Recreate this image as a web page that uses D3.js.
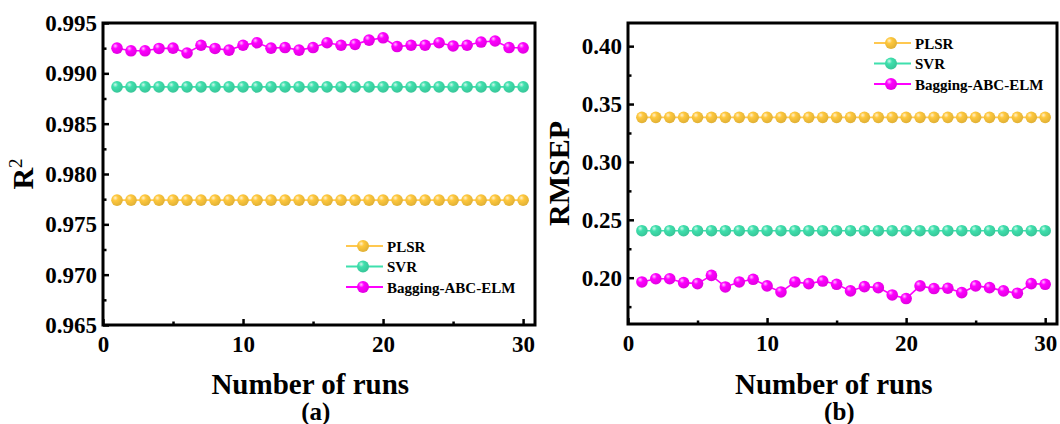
<!DOCTYPE html>
<html>
<head>
<meta charset="utf-8">
<script src="https://cdn.jsdelivr.net/npm/d3@7"></script>
<style>
  body { margin: 0; background: #fff; }
  svg text { font-family: "Liberation Serif", "Times New Roman", serif; font-weight: bold; fill: #000; }
</style>
</head>
<body>
<svg id="chart" width="1060" height="424"></svg>
<script>
// run index (x)
var runs = [1, 2, 3, 4, 5, 6, 7, 8, 9, 10, 11, 12, 13, 14, 15,
            16, 17, 18, 19, 20, 21, 22, 23, 24, 25, 26, 27, 28, 29, 30];

// (a) R2
var r2PLSR = [0.9774, 0.9774, 0.9774, 0.9774, 0.9774, 0.9774, 0.9774, 0.9774, 0.9774, 0.9774,
              0.9774, 0.9774, 0.9774, 0.9774, 0.9774, 0.9774, 0.9774, 0.9774, 0.9774, 0.9774,
              0.9774, 0.9774, 0.9774, 0.9774, 0.9774, 0.9774, 0.9774, 0.9774, 0.9774, 0.9774];
var r2SVR = [0.98865, 0.98865, 0.98865, 0.98865, 0.98865, 0.98865, 0.98865, 0.98865, 0.98865, 0.98865,
             0.98865, 0.98865, 0.98865, 0.98865, 0.98865, 0.98865, 0.98865, 0.98865, 0.98865, 0.98865,
             0.98865, 0.98865, 0.98865, 0.98865, 0.98865, 0.98865, 0.98865, 0.98865, 0.98865, 0.98865];
var r2Bagging = [0.99250, 0.99224, 0.99224, 0.99247, 0.99250, 0.99202, 0.99279, 0.99247, 0.99231, 0.99279,
                 0.99304, 0.99250, 0.99256, 0.99231, 0.99256, 0.99304, 0.99279, 0.99288, 0.99330, 0.99353,
                 0.99266, 0.99279, 0.99279, 0.99304, 0.99272, 0.99279, 0.99311, 0.99321, 0.99256, 0.99253];

// (b) RMSEP
var rmsepPLSR = [0.3385, 0.3385, 0.3385, 0.3385, 0.3385, 0.3385, 0.3385, 0.3385, 0.3385, 0.3385,
                 0.3385, 0.3385, 0.3385, 0.3385, 0.3385, 0.3385, 0.3385, 0.3385, 0.3385, 0.3385,
                 0.3385, 0.3385, 0.3385, 0.3385, 0.3385, 0.3385, 0.3385, 0.3385, 0.3385, 0.3385];
var rmsepSVR = [0.2406, 0.2406, 0.2406, 0.2406, 0.2406, 0.2406, 0.2406, 0.2406, 0.2406, 0.2406,
                0.2406, 0.2406, 0.2406, 0.2406, 0.2406, 0.2406, 0.2406, 0.2406, 0.2406, 0.2406,
                0.2406, 0.2406, 0.2406, 0.2406, 0.2406, 0.2406, 0.2406, 0.2406, 0.2406, 0.2406];
var rmsepBagging = [0.1963, 0.1991, 0.1991, 0.1957, 0.1949, 0.2020, 0.1920, 0.1963, 0.1986, 0.1929,
                    0.1877, 0.1963, 0.1949, 0.1971, 0.1943, 0.1886, 0.1923, 0.1914, 0.1851, 0.1820,
                    0.1929, 0.1906, 0.1909, 0.1871, 0.1929, 0.1914, 0.1886, 0.1866, 0.1949, 0.1943];

var seriesNames = ["PLSR", "SVR", "Bagging-ABC-ELM"];
var xTicks = [0, 10, 20, 30];
var xMinor = [5, 15, 25];
var r2Ticks = [0.965, 0.970, 0.975, 0.980, 0.985, 0.990, 0.995];
var r2Minor = [0.9675, 0.9725, 0.9775, 0.9825, 0.9875, 0.9925];
var rmsepTicks = [0.20, 0.25, 0.30, 0.35, 0.40];
var rmsepMinor = [0.175, 0.225, 0.275, 0.325, 0.375];

var colors = ["#ffc83d", "#3fe0ad", "#ff00ff"];
var lineColors = ["#ffc850", "#3fe0ad", "#ff00ff"];

var svg = d3.select("#chart");
var defs = svg.append("defs");

// sphere shading for markers
colors.forEach(function(c, i) {
  var g = defs.append("radialGradient")
    .attr("id", "ball" + i)
    .attr("cx", "38%").attr("cy", "35%").attr("r", "65%")
    .attr("fx", "35%").attr("fy", "30%");
  g.append("stop").attr("offset", "0%").attr("stop-color", d3.interpolateRgb(c, "#fff")(0.75));
  g.append("stop").attr("offset", "35%").attr("stop-color", c);
  g.append("stop").attr("offset", "100%").attr("stop-color", d3.color(c).darker(0.35));
});

function drawPanel(opt) {
  var x = d3.scaleLinear().domain([0, 30.85]).range([opt.left, opt.right]);
  var y = d3.scaleLinear().domain(opt.yDomain).range([opt.bottom, opt.top]);
  var g = svg.append("g");

  // lines and markers
  opt.series.forEach(function(vals, i) {
    var pts = runs.map(function(r, k) { return [r, vals[k]]; });
    g.append("path")
      .datum(pts)
      .attr("fill", "none")
      .attr("stroke", lineColors[i])
      .attr("stroke-width", 1.6)
      .attr("d", d3.line().x(function(d) { return x(d[0]); }).y(function(d) { return y(d[1]); }));
    g.selectAll(".m" + i)
      .data(pts)
      .enter()
      .append("circle")
      .attr("cx", function(d) { return x(d[0]); })
      .attr("cy", function(d) { return y(d[1]); })
      .attr("r", 5.8)
      .attr("fill", "url(#ball" + i + ")");
  });

  // axes (ticks inward)
  g.append("g").attr("transform", "translate(0," + opt.bottom + ")")
    .call(d3.axisBottom(x).tickValues(xTicks).tickSizeInner(-6).tickSizeOuter(0).tickPadding(11));
  g.append("g").attr("transform", "translate(0," + opt.bottom + ")")
    .call(d3.axisBottom(x).tickValues(xMinor).tickSizeInner(-3.5).tickSizeOuter(0).tickFormat(""));
  g.append("g").attr("transform", "translate(" + opt.left + ",0)")
    .call(d3.axisLeft(y).tickValues(opt.yTicks).tickSizeInner(-6).tickSizeOuter(0).tickPadding(6)
      .tickFormat(d3.format(opt.fmt)));
  g.append("g").attr("transform", "translate(" + opt.left + ",0)")
    .call(d3.axisLeft(y).tickValues(opt.yMinor).tickSizeInner(-3.5).tickSizeOuter(0).tickFormat(""));
  g.selectAll(".domain").remove();
  g.selectAll(".tick line").attr("stroke", "#000").attr("stroke-width", 2.5);
  g.selectAll(".tick text").style("font-size", "23px").style("font-family", "Liberation Serif").style("font-weight", "bold");

  // frame
  g.append("rect")
    .attr("x", opt.left).attr("y", opt.top)
    .attr("width", opt.right - opt.left).attr("height", opt.bottom - opt.top)
    .attr("fill", "none").attr("stroke", "#000").attr("stroke-width", 3);

  // titles
  g.append("text")
    .attr("x", x(14.8)).attr("y", 394)
    .attr("text-anchor", "middle").style("font-size", "29px")
    .text("Number of runs");
  g.append("text")
    .attr("x", x(15.2)).attr("y", 420)
    .attr("text-anchor", "middle").style("font-size", "25px")
    .text(opt.tag);
  var yt = g.append("text")
    .attr("transform", "translate(" + opt.yTitleX + "," + ((opt.top + opt.bottom) / 2) + ") rotate(-90)")
    .attr("text-anchor", "middle").style("font-size", "30px");
  yt.append("tspan").text(opt.yTitle);
  if (opt.sup) {
    yt.append("tspan").attr("dy", -11).style("font-size", "19px").style("font-weight", "normal").text(opt.sup);
  }

  // legend
  var lg = g.append("g").attr("transform", "translate(" + opt.legX + "," + opt.legY + ")");
  seriesNames.forEach(function(name, i) {
    var row = lg.append("g").attr("transform", "translate(0," + (i * 20.5) + ")");
    row.append("line").attr("x1", 0).attr("x2", 37).attr("y1", 0).attr("y2", 0)
      .attr("stroke", lineColors[i]).attr("stroke-width", 1.8);
    row.append("circle").attr("cx", 17).attr("cy", 0).attr("r", 6).attr("fill", "url(#ball" + i + ")");
    row.append("text").attr("x", 41).attr("y", 5.5).style("font-size", "15px").text(name);
  });
}

drawPanel({
  left: 103, right: 535, top: 23, bottom: 325,
  yDomain: [0.965, 0.995], yTicks: r2Ticks, yMinor: r2Minor, fmt: ".3f",
  series: [r2PLSR, r2SVR, r2Bagging],
  tag: "(a)", yTitle: "R", sup: "2", yTitleX: 33,
  legX: 346, legY: 246
});

drawPanel({
  left: 628, right: 1057, top: 23, bottom: 324,
  yDomain: [0.16, 0.42], yTicks: rmsepTicks, yMinor: rmsepMinor, fmt: ".2f",
  series: [rmsepPLSR, rmsepSVR, rmsepBagging],
  tag: "(b)", yTitle: "RMSEP", sup: null, yTitleX: 569,
  legX: 874, legY: 43
});
</script>
</body>
</html>
